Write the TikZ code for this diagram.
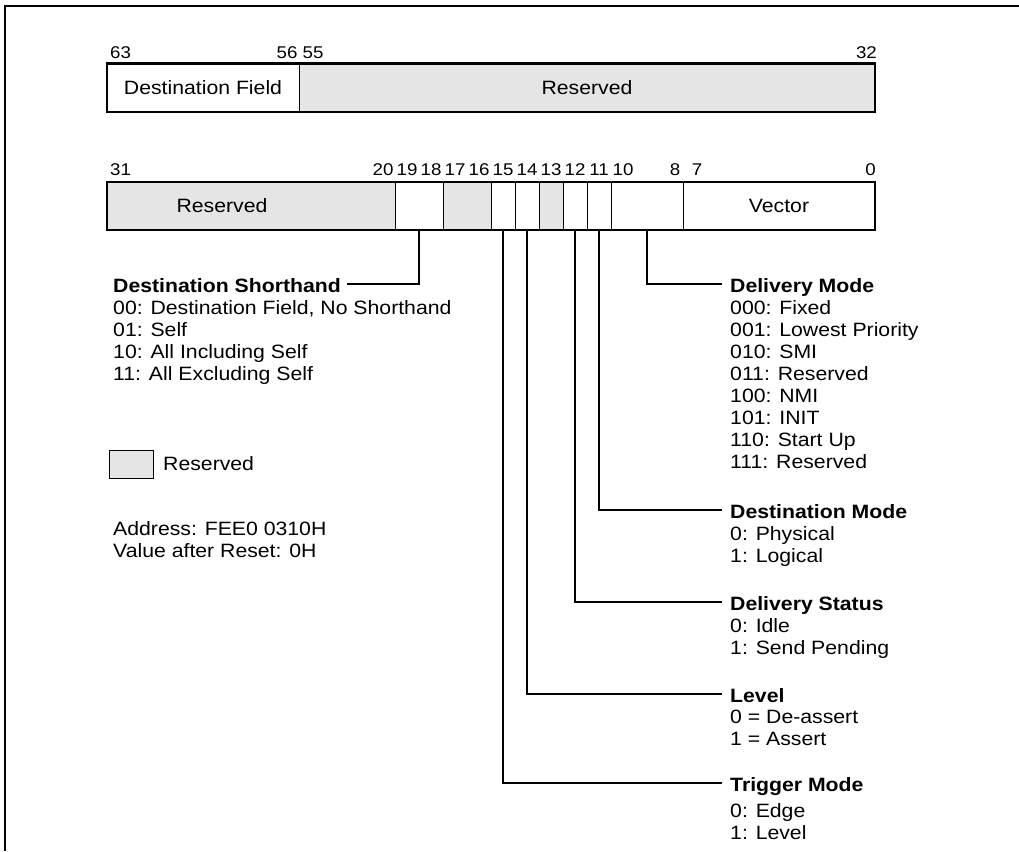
\documentclass[tikz,border=0pt]{standalone}
\usepackage{fontspec}
\setmainfont{Liberation Sans}[FakeStretch=1.1]
\usetikzlibrary{positioning}

\newcommand{\regfont}{\fontsize{19.3}{22}\selectfont}
\newcommand{\bitfont}{\fontsize{17}{20}\selectfont}

\tikzset{
  cell/.style={draw, line width=1pt, inner sep=0pt, outer sep=0pt, minimum height=48pt},
  rsvd/.style={cell, fill=black!10},
  bitnum/.style={inner sep=0pt, font=\bitfont},
  hdr/.style={inner sep=0pt, anchor=west, text height=16pt, text depth=0pt, font=\regfont\bfseries},
  desc/.style={inner sep=0pt, align=left},
  leader/.style={line width=1.2pt},
  outline/.style={line width=2pt},
}

\begin{document}
\begin{tikzpicture}[x=1pt, y=-1pt, font=\regfont]
  \useasboundingbox (0,0) rectangle (1019,851);
  \draw[line width=2.2pt] (5.3,851) |- (1019,5.7);

  % upper register, bits 63..32
  \node[cell, minimum width=192pt] (dfield) at (203,87.5) {Destination Field};
  \node[rsvd, minimum width=576pt, right=0pt of dfield] (res1) {Reserved};
  \draw[outline] (dfield.north west) rectangle (res1.south east);
  \node[bitnum, anchor=west] (n63) at (110,53) {63};
  \node[bitnum] (n56) at (287,53) {56};
  \node[bitnum] (n55) at (313,53) {55};
  \node[bitnum, anchor=east] (n32) at (877,53) {32};

  % lower register, bits 31..0
  \node[rsvd, minimum width=288pt] (res2) at (251,206) {};
  \node[cell, minimum width=48pt, right=0pt of res2] (ds) {};
  \node[rsvd, minimum width=48pt, right=0pt of ds] (r17) {};
  \node[cell, minimum width=24pt, right=0pt of r17] (tm) {};
  \node[cell, minimum width=24pt, right=0pt of tm] (lv) {};
  \node[rsvd, minimum width=24pt, right=0pt of lv] (r13) {};
  \node[cell, minimum width=24pt, right=0pt of r13] (dst) {};
  \node[cell, minimum width=24pt, right=0pt of dst] (dmd) {};
  \node[cell, minimum width=72pt, right=0pt of dmd] (dlm) {};
  \node[cell, minimum width=192pt, right=0pt of dlm] (vec) {Vector};
  \node[inner sep=0pt] (res2txt) at (222,206) {Reserved};
  \draw[outline] (res2.north west) rectangle (vec.south east);
  \node[bitnum, anchor=west] (n31) at (110,170) {31};
  \foreach \b in {20,...,10}
    \node[bitnum] (n\b) at ({863-24*\b},170) {\b};
  \node[bitnum] (n8) at (675,170) {8};
  \node[bitnum] (n7) at (697,170) {7};
  \node[bitnum, anchor=east] (n0) at (876,170) {0};

  % field descriptions
  \node[hdr] (dshd) at (113,284) {Destination Shorthand};
  \node[desc, below=16pt of dshd.west, anchor=north west] (dshbody)
    {00: Destination Field, No Shorthand\\01: Self\\10: All Including Self\\11: All Excluding Self};

  \node[hdr] (dmhd) at (730,284) {Delivery Mode};
  \node[desc, below=16pt of dmhd.west, anchor=north west] (dmbody)
    {000: Fixed\\001: Lowest Priority\\010: SMI\\011: Reserved\\100: NMI\\101: INIT\\110: Start Up\\111: Reserved};

  \node[hdr] (dsmhd) at (730,510) {Destination Mode};
  \node[desc, below=16pt of dsmhd.west, anchor=north west] (dsmbody) {0: Physical\\1: Logical};

  \node[hdr] (dsthd) at (730,602) {Delivery Status};
  \node[desc, below=16pt of dsthd.west, anchor=north west] (dstbody) {0: Idle\\1: Send Pending};

  \node[hdr] (lvhd) at (730,694) {Level};
  \node[desc, below=16pt of lvhd.west, anchor=north west] (lvbody) {0 = De-assert\\1 = Assert};

  \node[hdr] (tmhd) at (730,783) {Trigger Mode};
  \node[desc, below=20pt of tmhd.west, anchor=north west] (tmbody) {0: Edge\\1: Level};

  % leaders
  \draw[leader] (ds.south) |- ([xshift=6pt]dshd.east);
  \draw[leader] (dlm.south) |- ([xshift=-8pt]dmhd.west);
  \draw[leader] (dmd.south) |- ([xshift=-8pt]dsmhd.west);
  \draw[leader] (dst.south) |- ([xshift=-8pt]dsthd.west);
  \draw[leader] (lv.south) |- ([xshift=-8pt]lvhd.west);
  \draw[leader] (tm.south) |- ([xshift=-8pt]tmhd.west);

  % legend and notes
  \node[rsvd, line width=0.8pt, minimum width=44pt, minimum height=28pt] (legbox) at (131,464) {};
  \node[inner sep=0pt, right=10pt of legbox] (legtxt) {Reserved};
  \node[desc, anchor=north west] (addr) at (113,521) {Address: FEE0 0310H\\Value after Reset: 0H};
\end{tikzpicture}
\end{document}
